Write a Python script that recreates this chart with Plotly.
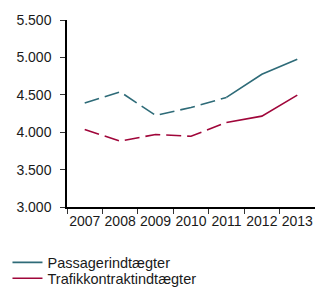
import plotly.graph_objects as go

years = ["2007", "2008", "2009", "2010", "2011", "2012", "2013"]
passager = [4390, 4540, 4225, 4330, 4465, 4775, 4975]
trafik = [4035, 3880, 3970, 3945, 4130, 4215, 4495]
names = ["Passagerindtægter", "Trafikkontraktindtægter"]
colors = ["#2E6B78", "#A0063A"]
split = 4  # index of 2011: dashed before, solid after

fig = go.Figure()
for i, (name, vals, col) in enumerate(zip(names, [passager, trafik], colors)):
    leg = "legend" if i == 0 else "legend2"
    fig.add_trace(go.Scatter(x=years[:split + 1], y=vals[:split + 1], mode="lines",
                             line=dict(color=col, width=1.6, dash="15px,6px"),
                             showlegend=False, hoverinfo="skip"))
    fig.add_trace(go.Scatter(x=years[split:], y=vals[split:], mode="lines",
                             line=dict(color=col, width=1.6), name=name, legend=leg))

legend_style = dict(orientation="v", x=-0.24, xanchor="left", yanchor="top",
                    font=dict(size=14.5), itemwidth=30, bgcolor="rgba(0,0,0,0)")

fig.update_layout(
    width=315, height=287,
    margin=dict(l=67, r=0, t=20, b=80, autoexpand=False),
    paper_bgcolor="white", plot_bgcolor="white",
    separators=",.",
    font=dict(family="Liberation Sans, Arial, sans-serif", size=14, color="#1a1a1a"),
    xaxis=dict(type="category", range=[-0.5, 6.5], tickson="boundaries", ticks="outside",
               ticklen=5, tickcolor="#333", showline=True, linecolor="black", linewidth=1.5,
               showgrid=False, tickfont=dict(size=14), tickangle=0, automargin=False),
    yaxis=dict(range=[3000, 5500], dtick=500, tickformat=",.0f", ticks="outside",
               ticklen=5, tickcolor="#333", showline=True, linecolor="black",
               linewidth=1.5, showgrid=False, zeroline=False, ticklabelstandoff=6,
               automargin=False),
    legend=dict(legend_style, y=-0.211),
    legend2=dict(legend_style, y=-0.296),
)

fig.write_html("out.html", config={"displayModeBar": False},
               post_script="document.body.style.margin='0';")
